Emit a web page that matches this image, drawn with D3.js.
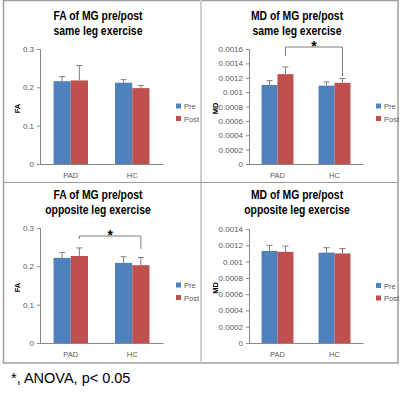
<!DOCTYPE html>
<html>
<head>
<meta charset="utf-8">
<script src="https://cdn.jsdelivr.net/npm/d3@7"></script>
<style>
  body { margin: 0; background: #fff; }
  svg { display: block; font-family: "Liberation Sans", Arial, sans-serif; }
</style>
</head>
<body>
<svg id="fig" width="400" height="397"></svg>
<script>
// groups and series
const categories = ["PAD", "HC"];
const seriesNames = ["Pre", "Post"];

// FA, same leg exercise
const faSamePre = [0.216, 0.212];
const faSamePost = [0.218, 0.198];
const faSamePreErr = [0.012, 0.008];
const faSamePostErr = [0.039, 0.007];

// MD, same leg exercise
const mdSamePre = [0.00110, 0.00109];
const mdSamePost = [0.00125, 0.00113];
const mdSamePreErr = [0.00006, 0.00005];
const mdSamePostErr = [0.00010, 0.00006];

// FA, opposite leg exercise
const faOppPre = [0.222, 0.209];
const faOppPost = [0.227, 0.203];
const faOppPreErr = [0.014, 0.016];
const faOppPostErr = [0.021, 0.020];

// MD, opposite leg exercise
const mdOppPre = [0.00113, 0.00111];
const mdOppPost = [0.00112, 0.00110];
const mdOppPreErr = [0.00007, 0.00006];
const mdOppPostErr = [0.00007, 0.00006];

const faTicks = [0, 0.1, 0.2, 0.3];
const mdSameTicks = [0, 0.0002, 0.0004, 0.0006, 0.0008, 0.001, 0.0012, 0.0014, 0.0016];
const mdOppTicks = [0, 0.0002, 0.0004, 0.0006, 0.0008, 0.001, 0.0012, 0.0014];

const colors = ["#4f81bd", "#c0504d"];

const svg = d3.select("#fig");

const panels = [
  { title: ["FA of MG pre/post", "same leg exercise"], ylab: "FA",
    pre: faSamePre, post: faSamePost, preErr: faSamePreErr, postErr: faSamePostErr,
    ticks: faTicks, x0: 40, x1: 163, yTop: 49, yBot: 164, titleX: 98, titleY: 20, sig: null },
  { title: ["MD of MG pre/post", "same leg exercise"], ylab: "MD",
    pre: mdSamePre, post: mdSamePost, preErr: mdSamePreErr, postErr: mdSamePostErr,
    ticks: mdSameTicks, x0: 249, x1: 363, yTop: 49, yBot: 164, titleX: 297, titleY: 20,
    sig: { y: 47, leftDrop: 56, rightDrop: 76 } },
  { title: ["FA of MG pre/post", "opposite leg exercise"], ylab: "FA",
    pre: faOppPre, post: faOppPost, preErr: faOppPreErr, postErr: faOppPostErr,
    ticks: faTicks, x0: 40, x1: 163, yTop: 228, yBot: 343, titleX: 98, titleY: 199,
    sig: { y: 236, leftDrop: 239, rightDrop: 249 } },
  { title: ["MD of MG pre/post", "opposite leg exercise"], ylab: "MD",
    pre: mdOppPre, post: mdOppPost, preErr: mdOppPreErr, postErr: mdOppPostErr,
    ticks: mdOppTicks, x0: 249, x1: 363, yTop: 229, yBot: 343, titleX: 297, titleY: 199, sig: null }
];

const fmt = d => d === 0 ? "0" : String(+d.toFixed(4));

// frame
svg.append("rect").attr("x", 3.5).attr("y", 0.5).attr("width", 394.5).attr("height", 362.5)
  .attr("fill", "none").attr("stroke", "#a0a0a0").attr("stroke-width", 1.5);
svg.append("line").attr("x1", 201).attr("x2", 201).attr("y1", 0).attr("y2", 363)
  .attr("stroke", "#d0d0d0").attr("stroke-width", 2);
svg.append("line").attr("x1", 3).attr("x2", 398).attr("y1", 182.5).attr("y2", 182.5)
  .attr("stroke", "#9a9a9a").attr("stroke-width", 1);

panels.forEach(p => {
  const g = svg.append("g");
  const x = d3.scaleBand().domain(categories).range([p.x0, p.x1]).paddingInner(0.44).paddingOuter(0.22);
  const xs = d3.scaleBand().domain(seriesNames).range([0, x.bandwidth()]);
  const y = d3.scaleLinear().domain([0, p.ticks[p.ticks.length - 1]]).range([p.yBot, p.yTop]);

  // title, squeezed a little to mimic the narrow original face
  p.title.forEach((t, i) => {
    const tt = g.append("text").attr("x", p.titleX).attr("y", p.titleY + i * 15)
      .attr("text-anchor", "middle").attr("font-size", 12.5).attr("font-weight", "bold")
      .attr("fill", "#000").text(t);
    const w = tt.node().getComputedTextLength();
    tt.attr("textLength", w * 0.83).attr("lengthAdjust", "spacingAndGlyphs");
  });

  // y axis
  const yAxis = g.append("g").attr("transform", `translate(${p.x0},0)`)
    .call(d3.axisLeft(y).tickValues(p.ticks).tickFormat(fmt).tickSize(3).tickPadding(3));
  yAxis.select(".domain").attr("stroke", "#888");
  yAxis.selectAll(".tick line").attr("stroke", "#888");
  yAxis.selectAll("text").attr("font-size", 8).attr("fill", "#595959")
    .attr("font-family", "Liberation Sans, Arial, sans-serif");

  // x axis
  const xAxis = g.append("g").attr("transform", `translate(0,${p.yBot})`)
    .call(d3.axisBottom(x).tickSize(0).tickPadding(9));
  xAxis.select(".domain").attr("stroke", "#888");
  xAxis.selectAll("text").attr("font-size", 7.5).attr("fill", "#595959")
    .attr("font-family", "Liberation Sans, Arial, sans-serif");

  // y title
  g.append("text")
    .attr("transform", `translate(${p.x0 - (p.ylab === "FA" ? 20 : 31)},${(p.yTop + p.yBot) / 2 + 2}) rotate(-90)`)
    .attr("text-anchor", "middle").attr("font-size", 7.5).attr("font-weight", "bold").text(p.ylab);

  // bars
  const rows = [];
  categories.forEach((c, i) => {
    rows.push({ c, s: "Pre", v: p.pre[i], e: p.preErr[i] });
    rows.push({ c, s: "Post", v: p.post[i], e: p.postErr[i] });
  });
  g.selectAll("rect.bar").data(rows).enter().append("rect")
    .attr("class", "bar")
    .attr("x", d => x(d.c) + xs(d.s))
    .attr("y", d => y(d.v))
    .attr("width", xs.bandwidth())
    .attr("height", d => y(0) - y(d.v))
    .attr("fill", d => colors[seriesNames.indexOf(d.s)]);

  // error bars (upper only)
  const eb = g.selectAll("g.err").data(rows).enter().append("g").attr("class", "err");
  eb.append("line")
    .attr("x1", d => x(d.c) + xs(d.s) + xs.bandwidth() / 2)
    .attr("x2", d => x(d.c) + xs(d.s) + xs.bandwidth() / 2)
    .attr("y1", d => y(d.v)).attr("y2", d => y(d.v + d.e))
    .attr("stroke", "#7f7f7f").attr("stroke-width", 1);
  eb.append("line")
    .attr("x1", d => x(d.c) + xs(d.s) + xs.bandwidth() / 2 - 3)
    .attr("x2", d => x(d.c) + xs(d.s) + xs.bandwidth() / 2 + 3)
    .attr("y1", d => y(d.v + d.e)).attr("y2", d => y(d.v + d.e))
    .attr("stroke", "#7f7f7f").attr("stroke-width", 1);

  // significance bracket between PAD Post and HC Post
  if (p.sig) {
    const lx = x("PAD") + xs("Post") + xs.bandwidth() / 2;
    const rx = x("HC") + xs("Post") + xs.bandwidth() / 2;
    g.append("path")
      .attr("d", `M${lx},${p.sig.leftDrop}V${p.sig.y}H${rx}V${p.sig.rightDrop}`)
      .attr("fill", "none").attr("stroke", "#7f7f7f").attr("stroke-width", 1);
    g.append("text").attr("x", (lx + rx) / 2).attr("y", p.sig.y + 4)
      .attr("text-anchor", "middle").attr("font-size", 14).attr("font-weight", "bold")
      .attr("fill", "#000").text("*");
  }

  // legend
  const lg = g.append("g").attr("transform", `translate(${p.x1 + 13},${(p.yTop + p.yBot) / 2})`);
  seriesNames.forEach((s, i) => {
    lg.append("rect").attr("x", 0).attr("y", i * 12.5 - 3).attr("width", 5).attr("height", 5)
      .attr("fill", colors[i]);
    lg.append("text").attr("x", 8).attr("y", i * 12.5 + 2.5).attr("font-size", 7.5)
      .attr("fill", "#595959").text(s);
  });
});

// caption
svg.append("text").attr("x", 11).attr("y", 383).attr("font-size", 14.5).attr("fill", "#000")
  .text("*, ANOVA, p< 0.05");
</script>
</body>
</html>
